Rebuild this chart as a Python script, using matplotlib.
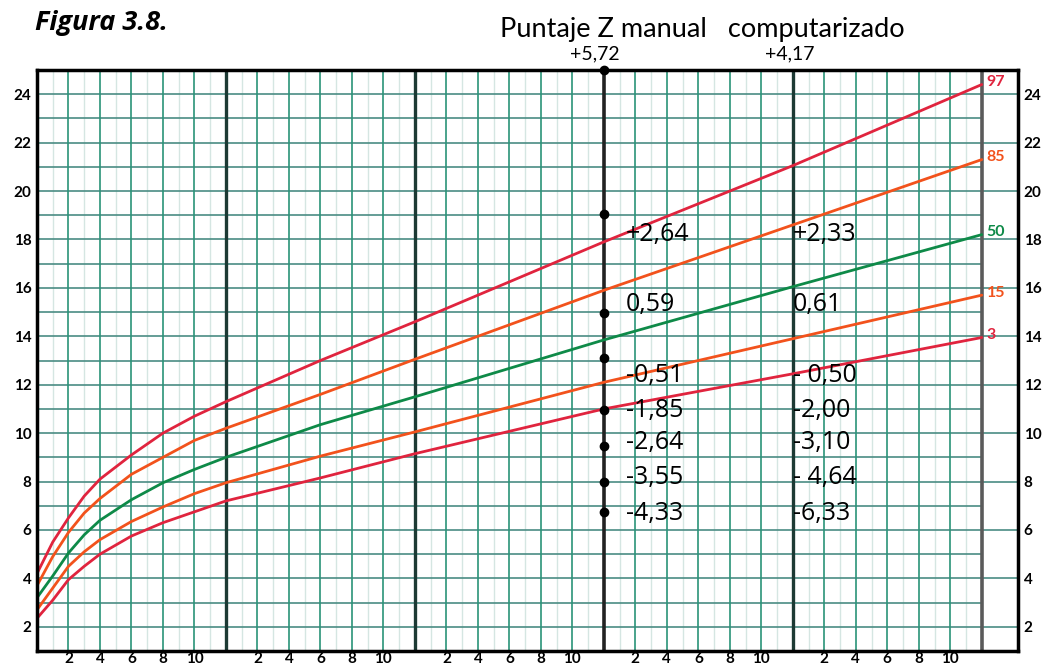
import matplotlib.pyplot as plt
import numpy as np

# weight curves (months, kg)
months = [0, 1, 2, 3, 4, 6, 8, 10, 12, 18, 24, 36, 48, 60]
p97 = [4.2, 5.5, 6.5, 7.4, 8.1, 9.1, 10.0, 10.7, 11.3, 13.0, 14.6, 17.9, 21.05, 24.4]
p85 = [3.7, 4.9, 5.9, 6.7, 7.3, 8.3, 9.0, 9.7, 10.2, 11.6, 13.05, 15.9, 18.6, 21.3]
p50 = [3.2, 4.1, 5.05, 5.8, 6.4, 7.25, 7.95, 8.5, 9.0, 10.35, 11.5, 13.85, 16.05, 18.2]
p15 = [2.7, 3.6, 4.5, 5.1, 5.6, 6.35, 6.95, 7.5, 7.95, 9.05, 10.05, 12.1, 13.9, 15.7]
p3 = [2.35, 3.1, 3.95, 4.5, 5.0, 5.75, 6.3, 6.75, 7.2, 8.15, 9.15, 11.0, 12.45, 13.95]
pct_names = ['97', '85', '50', '15', '3']

# points marked on the 36 month line
dot_month = 36
dot_kg = [25.0, 19.05, 14.95, 13.1, 10.95, 9.45, 8.0, 6.75]

z_manual = ['+2,64', '0,59', '-0,51', '-1,85', '-2,64', '-3,55', '-4,33']
z_comp = ['+2,33', '0,61', '- 0,50', '-2,00', '-3,10', '- 4,64', '-6,33']
z_rows = [18.2, 15.3, 12.4, 10.95, 9.6, 8.15, 6.7]

red = '#e0243e'
orange = '#f2521c'
green = '#0e8a48'
grid_c = '#2a9478'

fig = plt.figure(figsize=(10.42, 6.68), dpi=100)
ax = fig.add_axes([37/1042, 17/668, 981/1042, 581/668])
xmax = 62.3
ax.set_xlim(0, xmax)
ax.set_ylim(1, 25)

# grid
for m in np.arange(1, 60, 1):
    if m % 2 == 1:
        ax.plot([m, m], [1, 25], color='#d5e6e2', lw=1.0, zorder=1)
    elif m % 12 != 0:
        ax.plot([m, m], [1, 25], color=grid_c, lw=1.2, zorder=1.2)
for k in range(2, 25):
    xr = xmax if k % 2 == 0 else 60
    ax.plot([0, xr], [k, k], color='#4a8c84', lw=1.2, zorder=1.1)
for m in [12, 24, 48]:
    ax.axvline(m, color='#1d3a34', lw=2.4, zorder=2)
ax.axvline(36, color='#222222', lw=2.6, zorder=2)
ax.axvline(60, color='#5a5a5a', lw=2.6, zorder=2)

# curves
curves = [p97, p85, p50, p15, p3]
colors = [red, orange, green, orange, red]
for vals, c, name in zip(curves, colors, pct_names):
    ax.plot(months, vals, color=c, lw=2.0, zorder=3, solid_capstyle='round',
            solid_joinstyle='round')
    ax.text(60.3, vals[-1] + 0.1, name, color=c, fontsize=11.5, fontweight='bold',
            family='Lato', va='center', ha='left', zorder=4)

ax.plot([dot_month]*len(dot_kg), dot_kg, 'o', color='black', ms=6,
        zorder=5, clip_on=False)

for lab, y in zip(z_manual, z_rows):
    ax.text(37.4, y, lab, fontsize=18, family='Open Sans', va='center', ha='left', zorder=6)
for lab, y in zip(z_comp, z_rows):
    ax.text(48.0, y, lab, fontsize=18, family='Open Sans', va='center', ha='left', zorder=6)

# ticks
xt = [m for m in range(2, 60, 2) if m % 12 != 0]
ax.set_xticks(xt)
ax.set_xticklabels([str(m % 12) for m in xt], fontsize=11, fontweight='bold', family='Lato')
yt = list(range(2, 25, 2))
ax.set_yticks(yt)
ax.set_yticklabels([str(v) for v in yt], fontsize=11, fontweight='bold', family='Lato')
ax.tick_params(axis='x', length=0, pad=1)
ax.tick_params(axis='y', length=0, pad=4, labelright=True)
for s in ax.spines.values():
    s.set_linewidth(2.5)
    s.set_color('black')
    s.set_zorder(6)

fig.text(35/1042, 1 - 23/668, 'Figura 3.8.', fontsize=19.5, fontweight='bold',
         style='italic', family='Open Sans', va='center', ha='left')
fig.text(500/1042, 1 - 30/668, 'Puntaje Z manual   computarizado', fontsize=19.5,
         family='Lato', va='center', ha='left')
ax.text(35.4, 25.3, '+5,72', fontsize=14, family='Lato', ha='center', va='bottom')
ax.text(47.8, 25.3, '+4,17', fontsize=14, family='Lato', ha='center', va='bottom')

fig.savefig('out.png', dpi=100)
